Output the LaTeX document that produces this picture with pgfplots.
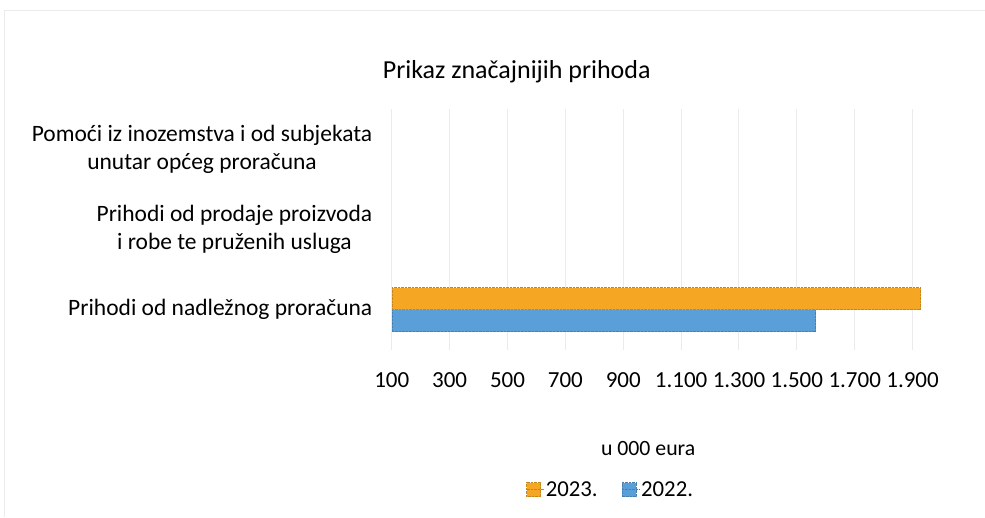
\documentclass[border=0pt]{standalone}
\usepackage{pgfplots}
\pgfplotsset{compat=1.18}
\usepackage{fontspec}
\setmainfont{Carlito}
\definecolor{orng}{HTML}{F5A623}
\definecolor{blu}{HTML}{5B9FD8}
\definecolor{grd}{HTML}{EBEBEB}
\newcommand{\fs}{\fontsize{23.5}{28}\selectfont}
\begin{document}
\begin{tikzpicture}[x=1pt,y=1pt]
\fill[white] (0,0) rectangle (985,517);
\draw[black!8, line width=1pt] (5,0) -- (5,506) -- (985,506);
\node[font=\fontsize{26}{30}\selectfont] at (517,445) {Prikaz značajnijih prihoda};
\begin{axis}[
  at={(392pt,167pt)}, anchor=south west,
  width=535.5pt, height=241pt, scale only axis,
  xbar=0pt, bar width=22pt,
  xmin=100, xmax=1950,
  ymin=-0.5, ymax=2.5,
  xtick={100,300,...,1900},
  ytick={0,1,2},
  yticklabels={Prihodi od nadležnog proračuna,{Prihodi od prodaje proizvoda\\i robe te pruženih usluga},{Pomoći iz inozemstva i od subjekata\\unutar općeg proračuna}},
  yticklabel style={font=\fs, align=center, xshift=-16pt},
  xticklabel style={font=\fontsize{23}{26}\selectfont, yshift=-19pt},
  /pgf/number format/.cd, 1000 sep={.}, assume math mode=true, /pgfplots/.cd,
  axis line style={draw=none}, major tick length=0pt,
  xmajorgrids, grid style={grd, line width=1pt},
  xlabel={u 000 eura}, xlabel style={font=\fontsize{21.8}{24}\selectfont, at={(rel axis cs:0.479,0)}, yshift=-88pt},
  legend columns=2, reverse legend,
  legend style={draw=none, fill=none, font=\fontsize{22.8}{26}\selectfont, at={(rel axis cs:0.409,-0.58)}, anchor=center,
    /tikz/every even column/.append style={column sep=22pt}},
  legend image code/.code={\fill[#1] (0pt,-7pt) rectangle (14pt,7pt); \path (0pt,0pt) -- (17pt,0pt);},
]
\addplot[fill=blu, draw=blu!80!black, densely dotted] coordinates {(1565,0)};
\addlegendentry{2022.}
\addplot[fill=orng, draw=orng!80!black, densely dotted] coordinates {(1928,0)};
\addlegendentry{2023.}
\end{axis}
\end{tikzpicture}
\end{document}
